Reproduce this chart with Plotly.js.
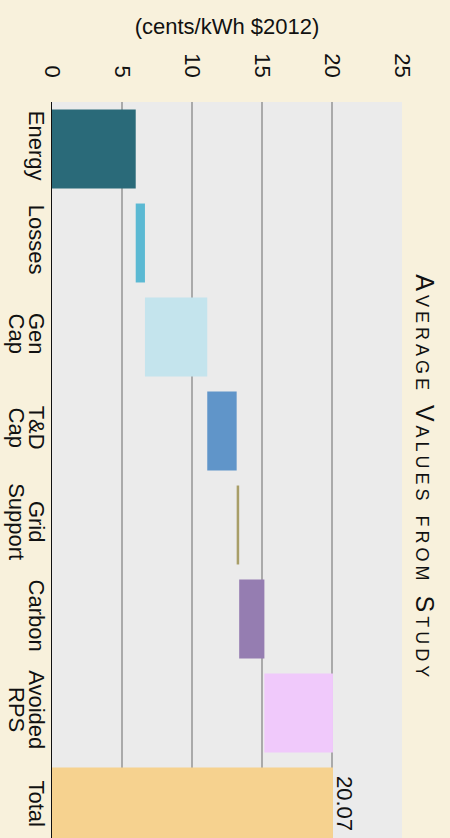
<!DOCTYPE html>
<html><head><meta charset="utf-8">
<script src="https://cdn.plot.ly/plotly-3.0.1.min.js"></script>
<style>html,body{margin:0;padding:0;background:#f8f1dc;overflow:hidden}</style>
</head><body><div id="chart" style="width:450px;height:838px"></div>
<script>
const categories = ['Energy','Losses','Gen Cap','T&D Cap','Grid Support','Carbon','Avoided RPS','Total'];
const steps = [5.98, 0.66, 4.45, 2.10, 0.18, 1.80, 4.90];
const barColors = ['#2a6a79','#5bb9d3','#c4e4ed','#6095c9','#a89e68','#957db1','#f0c9fb','#f6d28f'];
const valueTicks = [0, 5, 10, 15, 20, 25];
const axisTitle = '(cents/kWh $2012)';
const chartTitle = 'Average Values from Study';

const total = steps.reduce((a, b) => a + b, 0);
const bases = [];
let run = 0;
steps.forEach(v => { bases.push(run); run += v; });
bases.push(0);
const lengths = steps.concat([total]);

// split category names into two label lines
const line1 = categories.map(c => c.split(' ')[0]);
const twoLine = categories.map((c, i) => ({i: i, rest: c.split(' ').slice(1).join(' ')})).filter(o => o.rest);

const font = 'Liberation Sans, Arial, Helvetica, sans-serif';
const yRange = [7.33, -0.5];

const trace = {
  type: 'bar',
  orientation: 'h',
  y: categories,
  x: lengths,
  base: bases,
  width: 0.84,
  marker: {color: barColors, line: {width: 0}},
  hoverinfo: 'none'
};
const helper = {type: 'scatter', x: [], y: [], yaxis: 'y2', hoverinfo: 'none', showlegend: false};

const layout = {
  width: 450, height: 838,
  paper_bgcolor: '#f8f1dc',
  plot_bgcolor: '#ebebeb',
  margin: {l: 52, r: 48, t: 102, b: 0, pad: 0},
  showlegend: false,
  font: {family: font, size: 22, color: '#111'},
  xaxis: {
    side: 'top',
    range: [0, 25],
    tickvals: valueTicks,
    ticktext: valueTicks.map(String),
    tickangle: 90,
    ticks: '',
    ticklabelstandoff: 20,
    showgrid: true,
    gridcolor: '#aaaaaa',
    gridwidth: 1.5,
    zeroline: false,
    showline: false,
    automargin: false,
    tickfont: {family: font, size: 22, color: '#111'},
    title: {text: axisTitle, font: {family: font, size: 22, color: '#111'}, standoff: 12}
  },
  yaxis: {
    type: 'category',
    categoryorder: 'array',
    categoryarray: categories,
    range: yRange,
    tickmode: 'array',
    tickvals: categories,
    ticktext: line1,
    tickangle: 90,
    ticks: '',
    ticklabelstandoff: -5,
    showgrid: false,
    zeroline: false,
    showline: true,
    linecolor: '#111',
    linewidth: 1.5,
    automargin: false,
    tickfont: {family: font, size: 22, color: '#111'}
  },
  yaxis2: {
    overlaying: 'y',
    side: 'left',
    type: 'linear',
    range: yRange,
    tickmode: 'array',
    tickvals: twoLine.map(o => o.i),
    ticktext: twoLine.map(o => o.rest),
    tickangle: 90,
    ticks: '',
    ticklabelstandoff: 20,
    showgrid: false,
    zeroline: false,
    showline: false,
    automargin: false,
    tickfont: {family: font, size: 22, color: '#111'}
  },
  annotations: [
    {
      xref: 'x', yref: 'y',
      x: total, y: 'Total',
      text: total.toFixed(2),
      textangle: 90,
      showarrow: false,
      xanchor: 'left', yanchor: 'top',
      xshift: -3, yshift: 33,
      font: {family: font, size: 22, color: '#111'}
    },
    {
      xref: 'paper', yref: 'paper',
      x: 1.066, y: 0.49,
      text: '<span style="letter-spacing:4px">' + chartTitle + '</span>',
      textangle: 90,
      showarrow: false,
      xanchor: 'center', yanchor: 'middle',
      font: {family: font, size: 25, color: '#111', variant: 'small-caps'}
    }
  ]
};

Plotly.newPlot('chart', [trace, helper], layout, {displayModeBar: false, staticPlot: true});
</script>
</body></html>
